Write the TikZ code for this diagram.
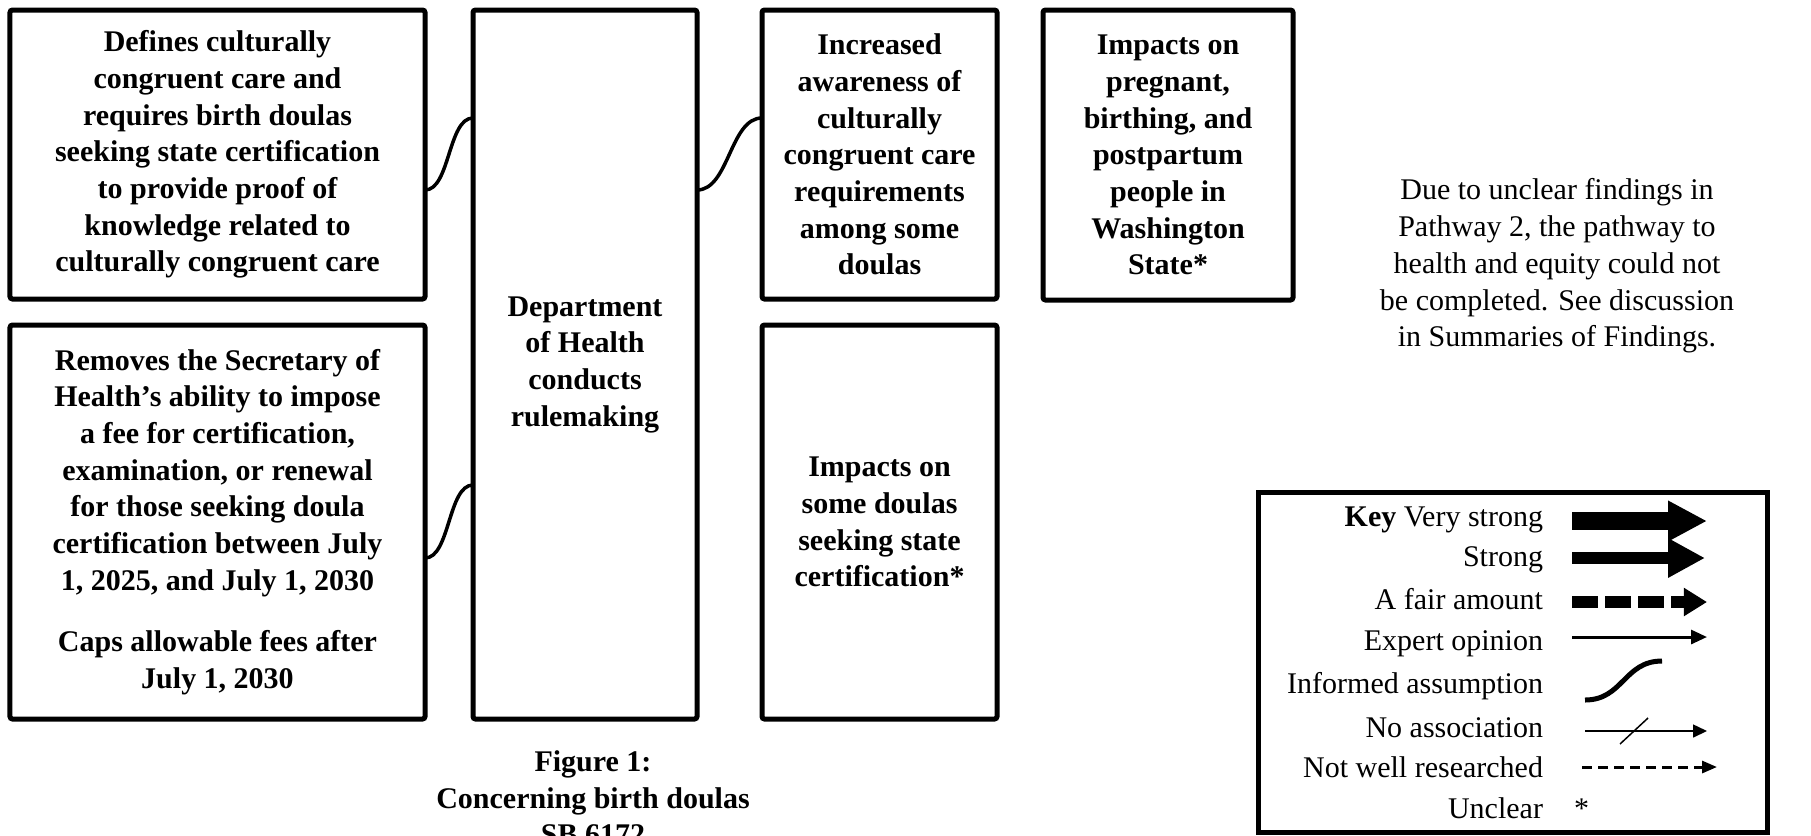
\documentclass[tikz,border=0pt]{standalone}
\usepackage{fontspec}
\setmainfont{Liberation Serif}
\usetikzlibrary{arrows.meta,calc}
\tikzset{
  box/.style={draw, line width=2pt, rounded corners=1pt, align=center,
    font=\fontsize{12pt}{14.67pt}\selectfont\bfseries, inner sep=0pt, outer sep=0pt},
  conn/.style={line width=1.4pt},
  keylab/.style={font=\fontsize{12pt}{14.67pt}\selectfont, inner sep=0pt, outer sep=0pt},
  capt/.style={align=center, font=\fontsize{12pt}{14.67pt}\selectfont\bfseries, inner sep=0pt},
  note/.style={align=center, font=\fontsize{12pt}{14.67pt}\selectfont, inner sep=0pt},
}
\begin{document}
\begin{tikzpicture}[x=0.4pt,y=-0.4pt]
\useasboundingbox (0,0) rectangle (1811,835);
\clip (0,0) rectangle (1811,835);
% boxes
\node[box, minimum width=166pt, minimum height=115.6pt] (b1) at (217.5,154.5)
  {Defines culturally\\congruent care and\\requires birth doulas\\seeking state certification\\to provide proof of\\knowledge related to\\culturally congruent care};
\node[box, minimum width=166pt, minimum height=157.6pt] (b2) at (217.5,522)
  {Removes the Secretary of\\Health’s ability to impose\\a fee for certification,\\examination, or renewal\\for those seeking doula\\certification between July\\1, 2025, and July 1, 2030\\[10pt]Caps allowable fees after\\July 1, 2030};
\node[box, minimum width=89.6pt, minimum height=283.6pt] (dept) at (585,364.5)
  {Department\\of Health\\conducts\\rulemaking};
\node[box, minimum width=94pt, minimum height=115.6pt] (inc) at (879.5,154.5)
  {Increased\\awareness of\\culturally\\congruent care\\requirements\\among some\\doulas};
\node[box, minimum width=100pt, minimum height=116pt] (preg) at (1168,155)
  {Impacts on\\pregnant,\\birthing, and\\postpartum\\people in\\Washington\\State*};
\node[box, minimum width=94pt, minimum height=157.6pt] (some) at (879.5,522)
  {Impacts on\\some doulas\\seeking state\\certification*};
% connectors (informed assumption)
\draw[conn] ($(b1.north east)+(0,180)$) .. controls +(25,0) and +(-25,0) .. ($(dept.north west)+(0,108)$);
\draw[conn] ($(b2.north east)+(0,233)$) .. controls +(25,0) and +(-25,0) .. ($(dept.north west)+(0,475)$);
\draw[conn] ($(dept.north east)+(0,180)$) .. controls +(32,0) and +(-32,0) .. ($(inc.north west)+(0,108)$);
% caption
\node[capt] (cap) at (593,798) {Figure 1:\\Concerning birth doulas\\SB 6172};
% note
\node[note] (due) at (1557,266) {Due to unclear findings in\\Pathway 2, the pathway to\\health and equity could not\\be completed. See discussion\\in Summaries of Findings.};
% key
\node[draw, line width=2pt, inner sep=0pt, outer sep=0pt, minimum width=203.6pt, minimum height=136pt] (key) at (1512.5,662) {};
\node[keylab, anchor=base east] (k1) at (1543,526) {\textbf{Key} Very strong};
\node[keylab, anchor=base east] (k2) at (1543,566) {Strong};
\node[keylab, anchor=base east] (k3) at (1543,609) {A fair amount};
\node[keylab, anchor=base east] (k4) at (1543,650) {Expert opinion};
\node[keylab, anchor=base east] (k5) at (1543,693) {Informed assumption};
\node[keylab, anchor=base east] (k6) at (1543,737) {No association};
\node[keylab, anchor=base east] (k7) at (1543,777) {Not well researched};
\node[keylab, anchor=base east] (k8) at (1543,818) {Unclear};
\node[keylab, anchor=base west] (ast) at (1574,818) {*};
\coordinate (a1s) at (1572,521); \coordinate (a1e) at (1707,521);
\coordinate (a2s) at (1572,558); \coordinate (a2e) at (1705,558);
\coordinate (a3s) at (1572,602); \coordinate (a3e) at (1707,602);
\coordinate (a4s) at (1572,637); \coordinate (a4e) at (1707,637);
\coordinate (a5s) at (1585,700); \coordinate (a5e) at (1662,661);
\coordinate (a6s) at (1585,731); \coordinate (a6e) at (1707,731);
\coordinate (s6a) at (1620,744); \coordinate (s6b) at (1648,718);
\coordinate (a7s) at (1582,767); \coordinate (a7e) at (1717,767);
\draw[line width=7.2pt, -{Triangle[length=15.6pt,width=15.2pt]}] (a1s) -- (a1e);
\draw[line width=4.8pt, -{Triangle[length=14.8pt,width=14.8pt]}] (a2s) -- (a2e);
\draw[line width=4.8pt, dash pattern=on 10.4pt off 2.8pt, -{Triangle[length=9.3pt,width=10.8pt]}] (a3s) -- (a3e);
\draw[line width=1.2pt, -{Triangle[length=6.4pt,width=5.6pt]}] (a4s) -- (a4e);
\draw[line width=2pt] (a5s) .. controls +(38,0) and +(-38,0) .. (a5e);
\draw[line width=0.6pt, -{Triangle[length=5.6pt,width=5.2pt]}] (a6s) -- (a6e);
\draw[line width=0.6pt] (s6a) -- (s6b);
\draw[line width=1.2pt, dash pattern=on 4pt off 2.4pt, -{Triangle[length=6pt,width=4.8pt]}] (a7s) -- (a7e);
\end{tikzpicture}
\end{document}
